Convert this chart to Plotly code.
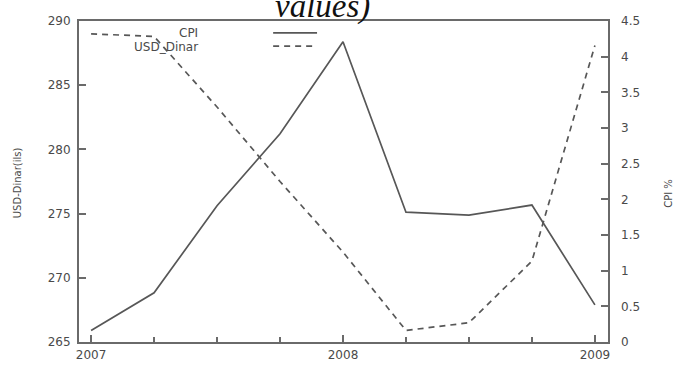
import plotly.graph_objects as go

# ---- data ----
quarters = [2007.0, 2007.25, 2007.5, 2007.75, 2008.0, 2008.25, 2008.5, 2008.75, 2009.0]
cpi = [0.16, 0.69, 1.91, 2.92, 4.21, 1.82, 1.78, 1.92, 0.52]
usd_dinar = [289.0, 288.8, 283.3, 277.5, 272.0, 265.9, 266.5, 271.3, 288.1]
year_ticks = [2007, 2008, 2009]
year_labels = ["2007", "2008", "2009"]
left_ticks = [265, 270, 275, 280, 285, 290]
right_ticks = [0, 0.5, 1, 1.5, 2, 2.5, 3, 3.5, 4, 4.5]
right_labels = ["0", "0.5", "1", "1.5", "2", "2.5", "3", "3.5", "4", "4.5"]

LINE = "#575757"
AX = "#6a6a6a"
TXT = "#4a4a4a"
FONT = "DejaVu Sans"

fig = go.Figure()
fig.add_trace(go.Scatter(x=quarters, y=usd_dinar, mode="lines", name="USD_Dinar",
                         line=dict(color=LINE, width=1.7, dash="6px,5px"), yaxis="y"))
fig.add_trace(go.Scatter(x=quarters, y=cpi, mode="lines", name="CPI",
                         line=dict(color=LINE, width=1.7), yaxis="y2"))

fig.update_layout(
    width=674, height=365,
    margin=dict(l=79, r=66, t=21, b=23),
    paper_bgcolor="white", plot_bgcolor="white",
    showlegend=False,
    font=dict(family=FONT, color=TXT, size=12),
    xaxis=dict(range=[2006.952, 2009.052], tickvals=year_ticks, ticktext=year_labels,
               ticks="inside", ticklen=7, tickwidth=1.5, tickcolor=AX,
               minor=dict(tick0=2007, dtick=0.25, ticks="inside", ticklen=5,
                          tickwidth=1.5, tickcolor=AX),
               showgrid=False, zeroline=False, showline=True, linecolor=AX,
               linewidth=2, mirror=True, tickfont=dict(size=12, color=TXT),
               ticklabelstandoff=1, automargin=False),
    yaxis=dict(range=[265, 290], tickvals=left_ticks, ticks="inside", ticklen=7,
               tickwidth=1.5, tickcolor=AX, showgrid=False, zeroline=False,
               showline=True, linecolor=AX, linewidth=2, mirror=True,
               tickfont=dict(size=12, color=TXT), ticklabelstandoff=4,
               automargin=False),
    yaxis2=dict(range=[0, 4.5], tickvals=right_ticks, ticktext=right_labels,
                overlaying="y", side="right", ticks="inside", ticklen=7,
                tickwidth=1.5, tickcolor=AX, showgrid=False, zeroline=False,
                showline=False, tickfont=dict(size=12, color=TXT),
                ticklabelstandoff=12, automargin=False),
)

# title fragment (cut off at top in the reference)
fig.add_annotation(text="<i>values)</i>", xref="paper", yref="paper", x=0.461, y=1.0,
                   xanchor="center", yanchor="bottom", showarrow=False, yshift=-6,
                   font=dict(family="Liberation Serif", size=33, color="#111111"))

# axis titles
fig.add_annotation(text="USD-Dinar(ils)", xref="paper", yref="paper", x=-0.117, y=0.495,
                   xanchor="center", yanchor="middle", textangle=-90, showarrow=False,
                   font=dict(size=10, color=TXT))
fig.add_annotation(text="CPI %", xref="paper", yref="paper", x=1.113, y=0.464,
                   xanchor="center", yanchor="middle", textangle=-90, showarrow=False,
                   font=dict(size=10, color=TXT))

# gnuplot-style key
fig.add_annotation(text="CPI", xref="paper", yref="paper", x=0.228, y=0.963,
                   xanchor="right", yanchor="middle", showarrow=False,
                   font=dict(size=12, color=TXT))
fig.add_annotation(text="USD_Dinar", xref="paper", yref="paper", x=0.228, y=0.919,
                   xanchor="right", yanchor="middle", showarrow=False,
                   font=dict(size=12, color=TXT))
fig.add_shape(type="line", xref="paper", yref="paper", x0=0.367, x1=0.450, y0=0.963, y1=0.963,
              line=dict(color=LINE, width=1.7))
fig.add_shape(type="line", xref="paper", yref="paper", x0=0.367, x1=0.450, y0=0.922, y1=0.922,
              line=dict(color=LINE, width=1.7, dash="6px,5px"))

fig.write_html("out.html", config={"displayModeBar": False},
               post_script="document.body.style.margin='0';document.body.style.padding='0';")
